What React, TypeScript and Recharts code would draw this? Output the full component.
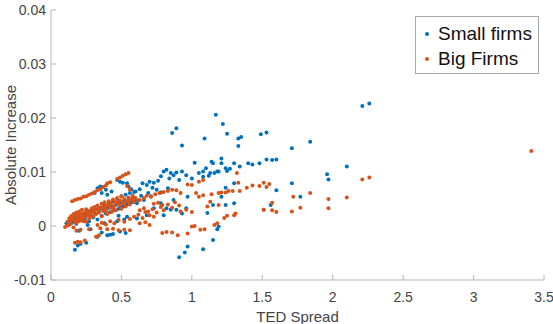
import { Scatter, ScatterChart, XAxis, YAxis } from "recharts";

// TED spread vs absolute increase, one [ted, increase] pair per observation
const SMALL_FIRMS: [number, number][] = [
  [0.11, 0.0005], [0.12, 0.0008], [0.13, 0.0003], [0.14, 0.0011], [0.15, 0.0006],
  [0.15, 0.0014], [0.16, 0.0009], [0.17, 0.0017], [0.18, 0.0012], [0.18, 0.0004],
  [0.19, 0.0015], [0.2, 0.002], [0.21, 0.0011], [0.22, 0.0017], [0.23, 0.0023],
  [0.24, 0.0014], [0.25, 0.0019], [0.26, 0.0026], [0.27, 0.0009], [0.28, 0.0021],
  [0.29, 0.0028], [0.3, 0.0016], [0.31, 0.0024], [0.32, 0.0031], [0.33, 0.0012],
  [0.34, 0.0027], [0.35, 0.0034], [0.36, 0.0019], [0.37, 0.003], [0.38, 0.0038],
  [0.39, 0.0023], [0.4, 0.0033], [0.41, 0.0041], [0.42, 0.0026], [0.43, 0.0036],
  [0.44, 0.0046], [0.45, 0.0029], [0.46, 0.0039], [0.47, 0.005], [0.48, 0.0032],
  [0.49, 0.0043], [0.5, 0.0055], [0.51, 0.0036], [0.52, 0.0047], [0.53, 0.0058],
  [0.54, 0.004], [0.55, 0.005], [0.56, 0.0061], [0.57, 0.0044], [0.58, 0.0054],
  [0.59, 0.0063], [0.6, 0.0048],
  [0.2, -0.0009], [0.28, -0.0006], [0.36, -0.0012], [0.44, -0.0015], [0.26, 0.0002],
  [0.38, 0.0005], [0.47, 0.0009], [0.52, 0.0012],
  [0.17, -0.0044], [0.19, -0.0036], [0.21, -0.0033], [0.25, -0.0031], [0.33, -0.002],
  [0.4, -0.0017], [0.42, -0.0016], [0.49, -0.001], [0.53, -0.0013],
  [0.31, 0.0061], [0.33, 0.007], [0.35, 0.0073], [0.36, 0.0061], [0.37, 0.0072],
  [0.39, 0.0067], [0.4, 0.0058], [0.43, 0.0064], [0.47, 0.0085], [0.49, 0.0082],
  [0.51, 0.008], [0.54, 0.0079], [0.55, 0.0073], [0.57, 0.0068], [0.6, 0.0064],
  [0.63, 0.0068], [0.65, 0.0079], [0.68, 0.0076], [0.7, 0.0082], [0.73, 0.008],
  [0.76, 0.0084], [0.75, 0.0067], [0.69, 0.0061], [0.66, 0.0048], [0.61, 0.0042],
  [0.73, 0.0033], [0.78, 0.0042], [0.82, 0.0033], [0.68, 0.002], [0.61, 0.0014],
  [0.54, 0.0017], [0.48, 0.0019], [0.87, 0.0048], [0.97, 0.0054], [0.93, 0.0023],
  [0.89, 0.003], [0.85, 0.003], [0.8, 0.002], [0.96, 0.0033], [0.8, 0.0101],
  [0.82, 0.0104], [0.85, 0.0098], [0.87, 0.0094], [0.89, 0.0099], [0.93, 0.0101],
  [0.91, 0.0085], [0.96, 0.0094], [1.0, 0.0088], [0.86, 0.0172], [0.89, 0.0181],
  [0.93, 0.0149], [0.78, 0.0092], [0.84, 0.0088], [0.72, 0.0071], [0.64, 0.0056],
  [0.71, 0.0055], [0.78, 0.0062], [0.83, 0.007],
  [0.91, -0.0058], [0.95, -0.0049], [0.97, -0.0038], [1.08, -0.0043], [1.15, -0.0026],
  [1.18, -0.0006], [1.19, -0.0001],
  [1.02, 0.0117], [1.05, 0.0098], [1.08, 0.0101], [1.08, 0.0091], [1.1, 0.0107],
  [1.12, 0.0093], [1.13, 0.0098], [1.14, 0.0119], [1.15, 0.0116], [1.16, 0.0098],
  [1.18, 0.0101], [1.19, 0.0101], [1.21, 0.0125], [1.21, 0.0116], [1.24, 0.0107],
  [1.25, 0.0102], [1.27, 0.0106], [1.3, 0.0116], [1.34, 0.011], [1.4, 0.0116],
  [1.43, 0.0114], [1.48, 0.0116], [1.53, 0.0123], [1.57, 0.0122], [1.09, 0.0162],
  [1.17, 0.0206], [1.22, 0.0189], [1.25, 0.0171], [1.33, 0.0148], [1.33, 0.0162],
  [1.35, 0.0165], [1.49, 0.017], [1.53, 0.0173], [1.24, 0.0071], [1.3, 0.0079],
  [1.21, 0.0054], [1.24, 0.0039], [1.3, 0.0042], [1.15, 0.0039], [1.11, 0.0024],
  [1.6, 0.0066], [1.56, 0.0039], [1.51, 0.003], [1.6, 0.0123],
  [1.71, 0.0144], [1.84, 0.0156], [1.71, 0.0079], [1.77, 0.0054], [1.96, 0.0096],
  [1.97, 0.0086], [2.1, 0.011], [2.21, 0.0222], [2.26, 0.0227],
];

const BIG_FIRMS: [number, number][] = [
  [0.15, 0.0046], [0.17, 0.0048], [0.19, 0.005], [0.21, 0.0051], [0.23, 0.0054],
  [0.25, 0.0055], [0.27, 0.0058], [0.29, 0.006], [0.31, 0.0063], [0.33, 0.0066],
  [0.35, 0.0068], [0.37, 0.0072], [0.39, 0.0075], [0.4, 0.0079], [0.42, 0.0081],
  [0.47, 0.0087], [0.49, 0.009], [0.51, 0.0093], [0.53, 0.0096], [0.55, 0.0098],
  [0.12, 0.0008], [0.13, 0.0014], [0.14, 0.001], [0.15, 0.0019], [0.16, 0.0013],
  [0.16, 0.0022], [0.17, 0.0008], [0.18, 0.0016], [0.18, 0.0025], [0.19, 0.0011],
  [0.2, 0.0019], [0.2, 0.0027], [0.21, 0.0014], [0.22, 0.0022], [0.22, 0.003],
  [0.23, 0.0009], [0.24, 0.0017], [0.24, 0.0025], [0.25, 0.0031], [0.26, 0.002],
  [0.27, 0.0013], [0.27, 0.0028], [0.28, 0.0023], [0.29, 0.0033], [0.3, 0.0018],
  [0.3, 0.0027], [0.31, 0.0035], [0.32, 0.0022], [0.33, 0.003], [0.33, 0.0038],
  [0.34, 0.0025], [0.35, 0.0033], [0.36, 0.0041], [0.36, 0.0018], [0.37, 0.0028],
  [0.38, 0.0036], [0.38, 0.0044], [0.39, 0.0031], [0.4, 0.0022], [0.4, 0.0039],
  [0.41, 0.0046], [0.42, 0.0034], [0.43, 0.0042], [0.43, 0.0026], [0.44, 0.0049],
  [0.45, 0.0037], [0.46, 0.0044], [0.46, 0.0029], [0.47, 0.0052], [0.48, 0.004],
  [0.49, 0.0047], [0.5, 0.0032], [0.5, 0.0055], [0.51, 0.0043], [0.52, 0.005],
  [0.53, 0.0036], [0.54, 0.0046], [0.55, 0.0053], [0.56, 0.004], [0.57, 0.0049],
  [0.58, 0.0056], [0.59, 0.0044], [0.6, 0.0052], [0.62, 0.0047],
  [0.14, 0.0017], [0.17, 0.0021], [0.19, 0.0023], [0.21, 0.0019], [0.23, 0.0016],
  [0.26, 0.0024], [0.28, 0.0017], [0.31, 0.0029], [0.34, 0.0032], [0.37, 0.0035],
  [0.39, 0.0027], [0.41, 0.0038], [0.44, 0.0033], [0.47, 0.0045], [0.49, 0.0038],
  [0.52, 0.0041], [0.55, 0.0046], [0.58, 0.0049],
  [0.1, -0.0002], [0.12, 0.0001], [0.14, 0.0004], [0.16, -0.0003], [0.18, 0.0006],
  [0.2, 0.0009], [0.22, 0.0012], [0.25, 0.0008], [0.17, -0.0031], [0.19, -0.0029],
  [0.21, -0.003], [0.24, -0.0027], [0.18, -0.0009], [0.21, -0.0007], [0.27, -0.0006],
  [0.32, -0.002], [0.34, -0.0017], [0.33, 0.0002], [0.36, 0.0006], [0.39, 0.0003],
  [0.42, 0.0009], [0.45, 0.0005], [0.48, 0.0011], [0.52, 0.0008], [0.56, 0.0013],
  [0.35, -0.0004], [0.4, -0.0006], [0.44, -0.0005], [0.48, -0.0008], [0.52, -0.0007],
  [0.56, -0.0008],
  [0.59, 0.0017], [0.62, 0.0021], [0.65, 0.0015], [0.67, 0.0026], [0.7, 0.002],
  [0.72, 0.0031], [0.75, 0.0025], [0.78, 0.0035], [0.8, 0.0029], [0.83, 0.004],
  [0.86, 0.0034], [0.88, 0.0044], [0.91, 0.0038], [0.63, 0.0048], [0.66, 0.0052],
  [0.68, 0.0056], [0.71, 0.0054], [0.74, 0.0059], [0.77, 0.0061], [0.8, 0.0063],
  [0.83, 0.0065], [0.86, 0.0067], [0.89, 0.0066], [0.92, 0.0061], [0.63, 0.0029],
  [0.66, 0.0033], [0.69, 0.0027], [0.73, 0.0041], [0.76, 0.0043], [0.79, 0.0039],
  [0.63, 0.0005], [0.67, 0.0007], [0.7, 0.0002], [0.73, 0.0017], [0.79, -0.0013],
  [0.82, -0.0011], [0.86, -0.0012], [0.9, -0.0017], [0.92, 0.0027], [0.96, 0.003],
  [0.97, -0.0014], [0.56, 0.0067], [0.54, 0.0074],
  [0.97, 0.0077], [1.0, 0.0076], [1.05, 0.0082], [1.08, 0.0085], [1.03, 0.0061],
  [1.05, 0.0054], [1.08, 0.0057], [1.14, 0.0059], [1.19, 0.0061], [1.21, 0.0062],
  [1.24, 0.0062], [1.26, 0.0065], [1.29, 0.0065], [1.34, 0.0065], [1.32, 0.0098],
  [1.33, 0.008], [1.13, 0.0045], [1.11, 0.0036], [1.19, 0.0039], [1.0, 0.0026],
  [1.23, 0.0015], [1.25, 0.0019], [1.3, 0.002], [1.31, 0.0023], [1.0, -0.0001],
  [1.02, 0.0], [1.06, -0.0007], [1.09, -0.0006], [1.16, 0.0002], [1.18, 0.0005],
  [1.39, 0.0071], [1.43, 0.0075], [1.48, 0.0074], [1.53, 0.0072], [1.51, 0.008],
  [1.55, 0.0078], [1.51, 0.003], [1.57, 0.0043], [1.57, 0.0029], [1.6, 0.0026],
  [1.72, 0.0054], [1.84, 0.0061], [1.97, 0.005], [2.1, 0.0053], [1.77, 0.0034],
  [1.97, 0.0033], [1.71, 0.0027], [2.21, 0.0086], [2.26, 0.009], [3.41, 0.0139],
];

const X_TICKS = [0, 0.5, 1, 1.5, 2, 2.5, 3, 3.5];
const Y_TICKS = [-0.01, 0, 0.01, 0.02, 0.03, 0.04];

const SERIES = [
  { name: "Small firms", color: "#0072BD", points: SMALL_FIRMS },
  { name: "Big Firms", color: "#D95319", points: BIG_FIRMS },
];

const FONT = "'Liberation Sans', Arial, sans-serif";
const AXIS_COLOR = "#b5b5b5";
const TICK_COLOR = "#444";

function toRows(points: [number, number][]) {
  return points.map(([ted, increase]) => ({ ted, increase }));
}

function Dot(props: any) {
  const { cx, cy, fill } = props;
  if (cx == null || cy == null) return null;
  return <circle cx={cx} cy={cy} r={2} fill={fill} />;
}

// ticks point into the plot, like the old matlab defaults
function XTick(props: any) {
  const { x, y, payload } = props;
  return (
    <g>
      <line x1={x} x2={x} y1={y} y2={y - 5} stroke={AXIS_COLOR} />
      <text
        x={x}
        y={y + 17}
        textAnchor="middle"
        dominantBaseline="central"
        fontSize={14}
        fontFamily={FONT}
        fill={TICK_COLOR}
      >
        {String(payload.value)}
      </text>
    </g>
  );
}

function YTick(props: any) {
  const { x, y, payload } = props;
  return (
    <g>
      <line x1={x} x2={x + 5} y1={y} y2={y} stroke={AXIS_COLOR} />
      <text
        x={x - 5}
        y={y}
        textAnchor="end"
        dominantBaseline="central"
        fontSize={14}
        fontFamily={FONT}
        fill={TICK_COLOR}
      >
        {String(payload.value)}
      </text>
    </g>
  );
}

// legend box drawn on top of the plot, top right
function LegendBox() {
  return (
    <div
      style={{
        position: "absolute",
        left: 415,
        top: 16,
        width: 124,
        height: 58,
        background: "#fff",
        border: "1px solid #a8a8a8",
        boxSizing: "border-box",
        paddingTop: 4,
        fontFamily: FONT,
        fontSize: 19,
        color: "#111",
      }}
    >
      {SERIES.map((s) => (
        <div
          key={s.name}
          style={{ display: "flex", alignItems: "center", height: 25 }}
        >
          <svg width={22} height={25}>
            <circle cx={11} cy={13} r={2} fill={s.color} />
          </svg>
          <span>{s.name}</span>
        </div>
      ))}
    </div>
  );
}

export default function App() {
  return (
    <div
      style={{
        position: "absolute",
        left: 0,
        top: 0,
        width: 553,
        height: 324,
        background: "#fff",
      }}
    >
      <ScatterChart
        width={553}
        height={324}
        margin={{ top: 10, right: 9, bottom: 0, left: 6 }}
      >
        <XAxis
          type="number"
          dataKey="ted"
          domain={[0, 3.5]}
          ticks={X_TICKS}
          interval={0}
          allowDataOverflow
          height={44}
          tickSize={0}
          tickMargin={0}
          tickLine={false}
          axisLine={{ stroke: AXIS_COLOR }}
          tick={<XTick />}
          label={{
            value: "TED Spread",
            position: "insideBottom",
            offset: 2,
            fontSize: 15,
            fontFamily: FONT,
            fill: TICK_COLOR,
          }}
        />
        <YAxis
          type="number"
          dataKey="increase"
          domain={[-0.01, 0.04]}
          ticks={Y_TICKS}
          interval={0}
          allowDataOverflow
          width={45}
          tickSize={0}
          tickMargin={0}
          tickLine={false}
          axisLine={{ stroke: AXIS_COLOR }}
          tick={<YTick />}
          label={{
            value: "Absolute Increase",
            angle: -90,
            position: "insideLeft",
            offset: 5,
            style: { textAnchor: "middle" },
            fontSize: 15,
            fontFamily: FONT,
            fill: TICK_COLOR,
          }}
        />
        {SERIES.map((s) => (
          <Scatter
            key={s.name}
            name={s.name}
            data={toRows(s.points)}
            fill={s.color}
            shape={<Dot />}
            isAnimationActive={false}
          />
        ))}
      </ScatterChart>
      <LegendBox />
    </div>
  );
}
